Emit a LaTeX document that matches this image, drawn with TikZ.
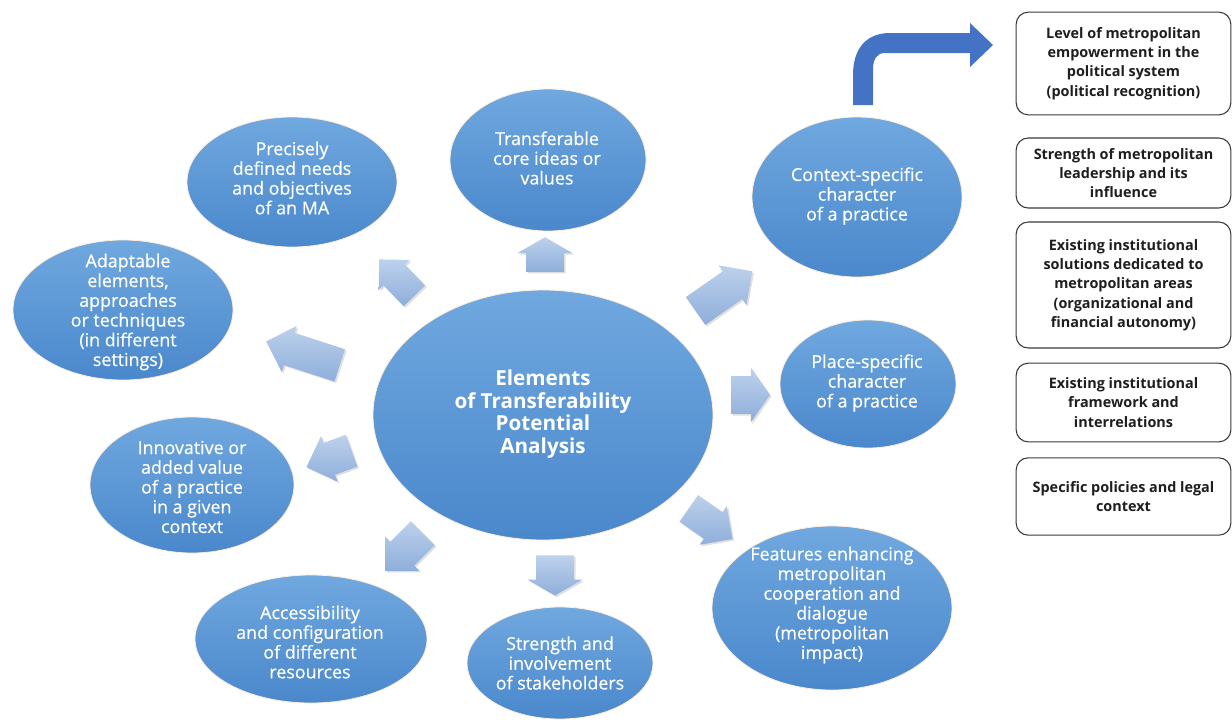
\documentclass[tikz,border=0pt]{standalone}
\usepackage{fontspec}
\setmainfont{Open Sans}
\newfontfamily\ellfont[FakeBold=0.5]{Open Sans}
\usetikzlibrary{shapes.geometric,shapes.arrows,shadows}
\definecolor{ellTop}{HTML}{70A8DF}
\definecolor{ellBot}{HTML}{4A88CC}
\definecolor{arrTop}{HTML}{BDD1EC}
\definecolor{arrBot}{HTML}{8EAEDA}
\definecolor{bendBlue}{HTML}{4472C4}
\definecolor{boxLine}{HTML}{3A3A3A}
\definecolor{boxText}{HTML}{1E1E1E}
\begin{document}
\begin{tikzpicture}[x=0.75pt,y=-0.75pt,
 ell/.style={ellipse, inner sep=0pt, outer sep=0pt, top color=ellTop, bottom color=ellBot, draw=white!85!orange, line width=0.6pt},
 etext/.style={align=center, text=white, font=\ellfont\fontsize{13.4}{14.8}\selectfont, inner sep=0pt},
 ctext/.style={align=center, text=white, font=\fontsize{15.5}{17}\selectfont\bfseries, inner sep=0pt},
 barrow/.style={single arrow, inner xsep=0pt, outer sep=0pt, top color=arrTop, bottom color=arrBot,
   single arrow tip angle=90,
   drop shadow={opacity=0.25, shadow xshift=1.2pt, shadow yshift=-1.2pt}},
 infobox/.style={rectangle, rounded corners=9pt, draw=boxLine, line width=0.8pt, fill=white, align=center,
   font=\fontsize{10.8}{14.5}\selectfont\bfseries, text=boxText, inner sep=0pt},
]
\useasboundingbox (0,0) rectangle (1232,719);

% central ellipse
\node[ell, minimum width=255pt, minimum height=187.5pt] (c) at (543,415) {};
\node[ctext] (ct) at (543,414) {Elements\\of Transferability\\Potential\\Analysis};

% satellites
\node[ell, minimum width=147pt, minimum height=106.5pt] (e1) at (548,160) {};
\node[etext] (t1) at (547,158) {Transferable\\core ideas or\\values};
\node[ell, minimum width=157.5pt, minimum height=97.5pt] (e2) at (292,182) {};
\node[etext] (t2) at (292,178) {Precisely\\defined needs\\and objectives\\of an MA};
\node[ell, minimum width=165pt, minimum height=105pt] (e3) at (123,310) {};
\node[etext] (t3) at (128,312) {Adaptable\\elements,\\approaches\\or techniques\\(in different\\settings)};
\node[ell, minimum width=153pt, minimum height=102pt] (e4) at (192,485) {};
\node[etext] (t4) at (192,487) {Innovative or\\added value\\of a practice\\in a given\\context};
\node[ell, minimum width=174pt, minimum height=96pt] (e5) at (311,639) {};
\node[etext] (t5) at (310,642) {Accessibility\\and configuration\\of different\\resources};
\node[ell, minimum width=139.5pt, minimum height=84pt] (e6) at (560,663) {};
\node[etext] (t6) at (560,663) {Strength and\\involvement\\of stakeholders};
\node[ell, minimum width=180pt, minimum height=123pt] (e7) at (832,608) {};
\node[etext] (t7) at (832,605) {Features enhancing\\metropolitan\\cooperation and\\dialogue\\(metropolitan\\impact)};
\node[ell, minimum width=132pt, minimum height=96pt] (e8) at (868,384) {};
\node[etext] (t8) at (867,383) {Place-specific\\character\\of a practice};
\node[ell, minimum width=157.5pt, minimum height=120pt] (e9) at (857,197) {};
\node[etext] (t9) at (857,196) {Context-specific\\character\\of a practice};

% block arrows
\node[barrow, rotate=90, minimum height=26pt, inner ysep=14pt, single arrow head extend=6.5pt, single arrow tip angle=120] (a1) at (545,260) {};
\node[barrow, rotate=134, minimum height=38pt, inner ysep=11pt, single arrow head extend=5pt] (a2) at (402,283) {};
\node[barrow, rotate=162, minimum height=58pt, inner ysep=12.5pt, single arrow head extend=5.5pt] (a3) at (311,356) {};
\node[barrow, rotate=200, minimum height=36pt, inner ysep=12.5pt, single arrow head extend=5.5pt] (a4) at (337,456) {};
\node[barrow, rotate=225, minimum height=40pt, inner ysep=12.5pt, single arrow head extend=5.5pt] (a5) at (410,546) {};
\node[barrow, rotate=270, minimum height=30pt, inner ysep=14pt, single arrow head extend=6.25pt, single arrow tip angle=120] (a6) at (555,570) {};
\node[barrow, rotate=-35, minimum height=40pt, inner ysep=12pt, single arrow head extend=5.5pt] (a7) at (704,519) {};
\node[barrow, rotate=0, minimum height=29pt, inner ysep=14pt, single arrow head extend=6.25pt, single arrow tip angle=110] (a8) at (744,395) {};
\node[barrow, rotate=35, minimum height=52pt, inner ysep=12.5pt, single arrow head extend=5.5pt] (a9) at (717,296) {};

% bent arrow
\fill[bendBlue] (853,105) -- (853,75) .. controls (853,50) and (865,33) .. (890,33) -- (970,33) -- (970,23)
  -- (993,45) -- (970,67) -- (970,53) -- (885,53) .. controls (876,53) and (873,60) .. (873,70) -- (873,105) -- cycle;

% info boxes
\node[infobox, minimum width=161pt, minimum height=77pt] (b1) at (1123.5,63.5) {Level of metropolitan\\empowerment in the\\political system\\(political recognition)};
\node[infobox, minimum width=161pt, minimum height=52.5pt] (b2) at (1123.5,173) {Strength of metropolitan\\leadership and its\\influence};
\node[infobox, minimum width=161pt, minimum height=94.5pt] (b3) at (1123.5,285) {Existing institutional\\solutions dedicated to\\metropolitan areas\\(organizational and\\financial autonomy)};
\node[infobox, minimum width=161pt, minimum height=59pt] (b4) at (1123.5,402.5) {Existing institutional\\framework and\\interrelations};
\node[infobox, minimum width=161pt, minimum height=58pt] (b5) at (1123.5,496.5) {Specific policies and legal\\context};
\end{tikzpicture}
\end{document}
